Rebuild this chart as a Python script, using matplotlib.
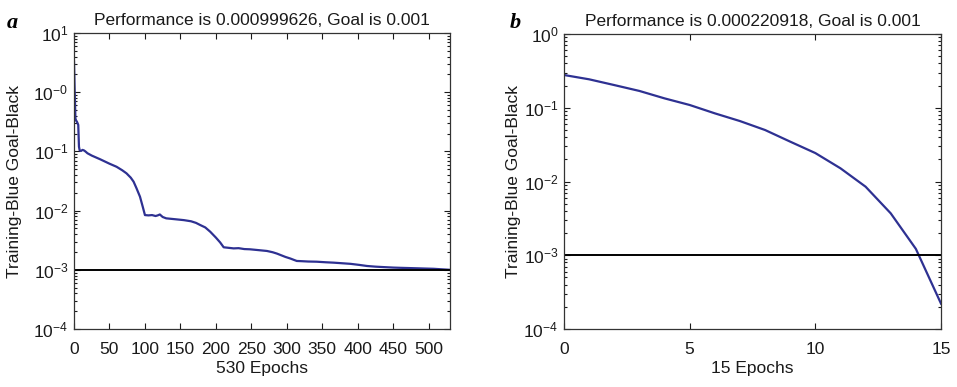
import matplotlib
matplotlib.use("Agg")
import matplotlib.pyplot as plt
from matplotlib.ticker import LogLocator, NullFormatter, FixedLocator, FixedFormatter

# --- data ---
goal = 1e-3

epochs_a = [0, 1, 2, 3, 4, 5, 6, 7, 8, 10, 12, 14, 16, 19, 25, 37, 50, 60,
            68, 74, 80, 84, 88, 93, 97, 100, 105, 110, 115, 118, 121, 125,
            130, 145, 155, 165, 172, 178, 185, 192, 200, 206, 211, 218, 225,
            232, 240, 248, 260, 272, 280, 286, 291, 298, 305, 310, 314, 320,
            330, 342, 355, 366, 378, 390, 402, 413, 425, 437, 450, 460, 472,
            484, 495, 507, 518, 530]
perf_a = [3.3, 1.0, 0.36, 0.33, 0.32, 0.30, 0.28, 0.12, 0.104, 0.102, 0.106,
          0.104, 0.100, 0.093, 0.085, 0.0735, 0.062, 0.055, 0.048, 0.0426,
          0.036, 0.0308, 0.024, 0.0172, 0.0115, 0.0084, 0.0083, 0.0084,
          0.0081, 0.0083, 0.0086, 0.0078, 0.0074, 0.0071, 0.0069, 0.0066,
          0.0062, 0.0057, 0.0052, 0.0044, 0.0035, 0.0029, 0.0024, 0.00235,
          0.0023, 0.00232, 0.00224, 0.00222, 0.00215, 0.00208, 0.00198,
          0.00188, 0.00178, 0.00165, 0.00155, 0.00147, 0.00141, 0.00140,
          0.00138, 0.00137, 0.00134, 0.00132, 0.00129, 0.00126, 0.00121,
          0.00116, 0.00113, 0.00111, 0.00109, 0.00108, 0.00107, 0.00106,
          0.00105, 0.00104, 0.00102, 0.000999626]

epochs_b = list(range(16))
perf_b = [0.278, 0.243, 0.203, 0.169, 0.134, 0.109, 0.084, 0.066, 0.0499,
          0.0347, 0.0243, 0.0151, 0.0085, 0.0037, 0.00122, 0.000220918]

title_a = "Performance is 0.000999626, Goal is 0.001"
title_b = "Performance is 0.000220918, Goal is 0.001"
xlabel_a = "530 Epochs"
xlabel_b = "15 Epochs"
ylabel = "Training-Blue Goal-Black"

xticks_a = [0, 50, 100, 150, 200, 250, 300, 350, 400, 450, 500]
xticks_b = [0, 5, 10, 15]
yticks_a = [1e1, 1e0, 1e-1, 1e-2, 1e-3, 1e-4]
yticklabels_a = ["$10^{1}$", "$10^{-0}$", "$10^{-1}$", "$10^{-2}$", "$10^{-3}$", "$10^{-4}$"]
yticks_b = [1e0, 1e-1, 1e-2, 1e-3, 1e-4]
yticklabels_b = ["$10^{0}$", "$10^{-1}$", "$10^{-2}$", "$10^{-3}$", "$10^{-4}$"]

plt.rcParams["font.family"] = ["Liberation Sans", "DejaVu Sans"]
plt.rcParams["mathtext.fontset"] = "custom"
plt.rcParams["mathtext.rm"] = "Liberation Sans"
plt.rcParams["mathtext.it"] = "Liberation Sans:italic"
plt.rcParams["mathtext.default"] = "rm"

BLUE = "#2e3192"
TXT = "#1a1a1a"
FS = 12.5

fig = plt.figure(figsize=(9.57, 3.87), dpi=100)
ax_a = fig.add_axes([74 / 957, 58 / 387, 376 / 957, 296 / 387])
ax_b = fig.add_axes([564 / 957, 58 / 387, 377 / 957, 295 / 387])


def style_axis(ax, xlim, ylim, xticks, yticks, yticklabels, title, xlabel, ylab_x):
    ax.set_yscale("log")
    ax.set_xlim(*xlim)
    ax.set_ylim(*ylim)
    ax.xaxis.set_major_locator(FixedLocator(xticks))
    ax.yaxis.set_major_locator(FixedLocator(yticks))
    ax.yaxis.set_major_formatter(FixedFormatter(yticklabels))
    ax.yaxis.set_minor_locator(LogLocator(base=10, subs=range(2, 10), numticks=20))
    ax.yaxis.set_minor_formatter(NullFormatter())
    ax.tick_params(which="both", direction="in", top=True, right=True,
                   labelsize=FS, colors=TXT, width=0.8)
    ax.tick_params(which="major", length=4)
    ax.tick_params(which="minor", length=2)
    ax.tick_params(axis="x", which="major", pad=9)
    ax.tick_params(axis="y", which="major", pad=4)
    for s in ax.spines.values():
        s.set_linewidth(0.9)
        s.set_color("#333333")
    ax.set_title(title, fontsize=FS, pad=6, color=TXT)
    ax.set_xlabel(xlabel, fontsize=FS, labelpad=3, color=TXT)
    ax.set_ylabel(ylabel, fontsize=FS, color=TXT)
    ax.yaxis.set_label_coords(ylab_x, 0.5)


ax_a.plot(epochs_a, perf_a, color=BLUE, lw=1.6)
ax_a.axhline(goal, color="black", lw=1.4)
style_axis(ax_a, (0, 530), (1e-4, 1e1), xticks_a, yticks_a, yticklabels_a,
           title_a, xlabel_a, (22 - 74) / 376)

ax_b.plot(epochs_b, perf_b, color=BLUE, lw=1.6)
ax_b.axhline(goal, color="black", lw=1.4)
style_axis(ax_b, (0, 15), (1e-4, 1e0), xticks_b, yticks_b, yticklabels_b,
           title_b, xlabel_b, (521 - 564) / 377)

fig.text(7 / 957, 1 - 27.5 / 387, "a", family="Liberation Serif", style="italic",
         weight="bold", fontsize=16, va="baseline", ha="left")
fig.text(510 / 957, 1 - 27.5 / 387, "b", family="Liberation Serif", style="italic",
         weight="bold", fontsize=16, va="baseline", ha="left")

fig.savefig("out.png", dpi=100)
